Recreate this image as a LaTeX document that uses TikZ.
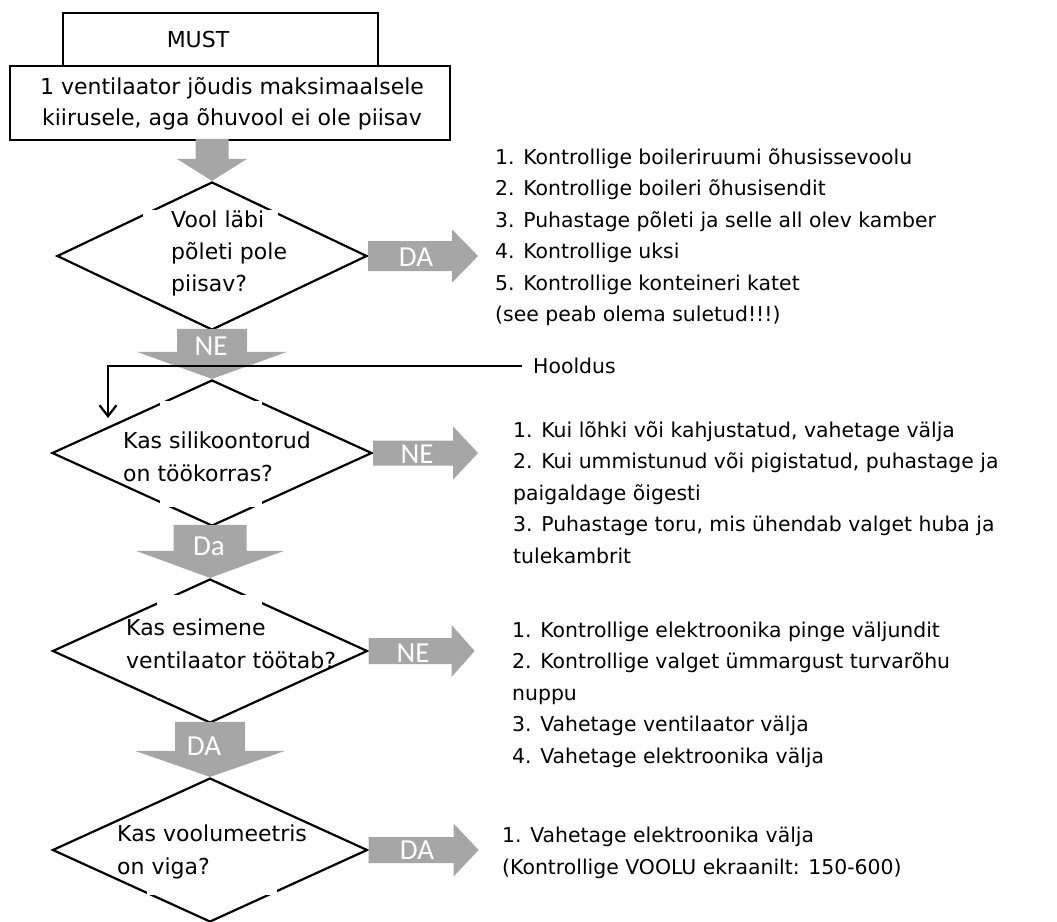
\documentclass[tikz,border=0pt]{standalone}
\usepackage{fontspec}
\setmainfont{DejaVu Sans}
\newfontfamily\lblfont{Carlito}
\usetikzlibrary{shapes.geometric,arrows.meta}
\definecolor{arrowgray}{RGB}{166,166,166}
\newcommand\downblock[5]{% #1 tip anchor, #2 shaft half width, #3 shaft length, #4 head half width, #5 head length
  \fill[garrow, shift={(#1)}] (0,0) -- (#4,-#5) -- (#2,-#5) -- (#2,{-#5-#3}) -- ({-#2},{-#5-#3}) -- ({-#2},-#5) -- ({-#4},-#5) -- cycle;}
\newcommand\rightblock[5]{% #1 start anchor, #2 shaft half height, #3 shaft length, #4 head half height, #5 head length
  \fill[garrow, shift={(#1)}] (0,{-#2}) -- (#3,{-#2}) -- (#3,{-#4}) -- ({#3+#5},0) -- (#3,#4) -- (#3,#2) -- (0,#2) -- cycle;}
\begin{document}
\begin{tikzpicture}[x=1pt,y=-1pt,
  box/.style={draw, line width=2.8pt, fill=white, inner sep=0pt},
  dia/.style={diamond, draw, line width=2.2pt, inner sep=0pt},
  qtext/.style={inner sep=0pt, anchor=base west, align=left, font=\fontsize{22pt}{32.5pt}\selectfont},
  info/.style={inner sep=0pt, anchor=base west, align=left, font=\fontsize{20.4pt}{31.5pt}\selectfont},
  garrow/.style={fill=arrowgray},
  glabel/.style={text=white, inner sep=0pt, font=\lblfont\fontsize{29pt}{29pt}\selectfont},
  gap/.style={fill=white}]
\useasboundingbox (0,0) rectangle (1057,921);
\clip (0,0) rectangle (1057,921);

% top boxes
\node[box, minimum width=315pt, minimum height=53pt] (must) at (220.5,39.5) {};
\node[inner sep=0pt, font=\fontsize{22pt}{25pt}\selectfont] (musttext) at (198,39) {MUST};
\node[box, minimum width=440pt, minimum height=74pt] (start) at (230,103) {};
\node[qtext, anchor=base, align=center, font=\fontsize{22pt}{31pt}\selectfont] (starttext) at (232,125) {1 ventilaator jõudis maksimaalsele\\kiirusele, aga õhuvool ei ole piisav};

% diamonds
\node[dia, minimum width=310pt, minimum height=148pt] (d1) at (212,256) {};
\node[dia, minimum width=320pt, minimum height=146pt] (d2) at (212,453) {};
\node[dia, minimum width=315pt, minimum height=144pt] (d3) at (210,651) {};
\node[dia, minimum width=315pt, minimum height=144pt] (d4) at (210,850) {};

% white text backgrounds cutting the outlines
\fill[gap] (143,210) rectangle (278,296);
\fill[gap] (160,401) rectangle (262,507);
\fill[gap] (157,595) rectangle (262,698);
\fill[gap] (147,817) rectangle (277,895);

% question texts (anchored at the baseline of the last line)
\node[qtext, font=\fontsize{22pt}{32pt}\selectfont] (q1) at (171,291) {Vool läbi\\põleti pole\\piisav?};
\node[qtext] (q2) at (123,481) {Kas silikoontorud\\on töökorras?};
\node[qtext] (q3) at (126,668) {Kas esimene\\ventilaator töötab?};
\node[qtext] (q4) at (117,874) {Kas voolumeetris\\on viga?};

% gray block arrows (down)
\downblock{d1.north}{16.5}{20}{35}{22}
\downblock{d2.north}{35}{23}{75}{27}
\downblock{d3.north}{36.5}{26}{74}{27}
\downblock{d4.north}{35}{29}{75}{26}
% gray block arrows (right)
\rightblock{d1.east}{15}{84}{26.5}{26}
\rightblock{d2.east}{12.5}{80}{26.5}{25}
\rightblock{d3.east}{13}{83}{26}{23}
\rightblock{d4.east}{13}{85}{26.5}{25}

% arrow labels
\node[glabel] (l1) at (416,257) {DA};
\node[glabel] (l2) at (211,346) {NE};
\node[glabel] (l3) at (417,454) {NE};
\node[glabel] (l4) at (209,546) {Da};
\node[glabel] (l5) at (413,653) {NE};
\node[glabel] (l6) at (204,746) {DA};
\node[glabel] (l7) at (417,850) {DA};

% right-hand texts (anchored at the baseline of the last line)
\node[info] (t1) at (495,321.5) {1. Kontrollige boileriruumi õhusissevoolu\\2. Kontrollige boileri õhusisendit\\3. Puhastage põleti ja selle all olev kamber\\4. Kontrollige uksi\\5. Kontrollige konteineri katet\\(see peab olema suletud!!!)};
\node[info, anchor=west] (hooldus) at (533,366) {Hooldus};
\node[info] (t2) at (513,563) {1. Kui lõhki või kahjustatud, vahetage välja\\2. Kui ummistunud või pigistatud, puhastage ja\\paigaldage õigesti\\3. Puhastage toru, mis ühendab valget huba ja\\tulekambrit};
\node[info] (t3) at (512,763) {1. Kontrollige elektroonika pinge väljundit\\2. Kontrollige valget ümmargust turvarõhu\\nuppu\\3. Vahetage ventilaator välja\\4. Vahetage elektroonika välja};
\node[info] (t4) at (502,874) {1. Vahetage elektroonika välja\\(Kontrollige VOOLU ekraanilt: 150-600)};

% maintenance connector
\coordinate (htip) at (108,418);
\draw[line width=2.2pt, -{Straight Barb[length=11pt,width=17pt,line width=2.2pt]}] ([xshift=-11pt]hooldus.west) -| (htip);
\end{tikzpicture}
\end{document}
